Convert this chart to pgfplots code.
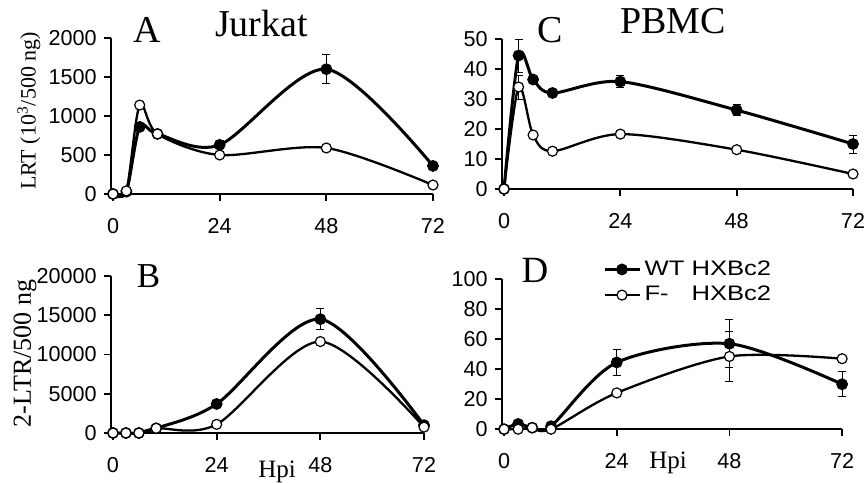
\documentclass[border=0pt]{standalone}
\usepackage{pgfplots}
\pgfplotsset{compat=1.18}
\usepackage{fontspec}
\setmainfont{Liberation Serif}
\newfontfamily\arial{Liberation Sans}
\newfontfamily\arialwide[FakeStretch=1.22]{Liberation Sans}

\pgfplotsset{
  panel/.style={
    scale only axis, anchor=south west, clip=false,
    axis x line*=bottom, axis y line*=left,
    axis line style={line width=0.9pt},
    tick style={line width=0.9pt, black},
    tick align=outside, major tick length=3.5pt,
    xmin=-0.5, xmax=72, xtick={0,24,48,72}, ymin=0,
    tick label style={font=\arial\fontsize{10.8}{12}\selectfont},
    /pgf/number format/assume math mode=true,
    /pgf/number format/1000 sep={},
    scaled y ticks=false,
    xticklabel style={yshift=-5pt},
  },
  wt/.style={black, line width=1.5pt, smooth, tension=0.5,
    mark=*, mark size=2.7pt, mark options={fill=black, line width=0.5pt}},
  fm/.style={black, line width=1.15pt, smooth, tension=0.5,
    mark=*, mark size=2.5pt, mark options={fill=white, line width=0.6pt}},
  errs/.style={only marks, mark=none, forget plot,
    error bars/.cd, y dir=both, y explicit,
    error bar style={line width=0.5pt, black},
    error mark options={rotate=90, mark size=2pt, line width=0.5pt, black}},
}

\begin{document}
\begin{tikzpicture}
\useasboundingbox (0,0) rectangle (432.5pt,-241pt);

% A: Jurkat LRT
\begin{axis}[panel, at={(55.4pt,-97pt)}, width=161.1pt, height=78pt,
  ymax=2000, ytick={0,500,1000,1500,2000}]
  \addplot[errs] coordinates {(24,630) +- (0,50) (48,1600) +- (0,185) (72,360) +- (0,50)};
  \addplot[wt] coordinates {(0,0) (3,30) (6,860) (10,770) (24,630) (48,1600) (72,360)};
  \addplot[fm] coordinates {(0,0) (3,40) (6,1140) (10,770) (24,500) (48,590) (72,115)};
\end{axis}

% C: PBMC LRT
\begin{axis}[panel, at={(250.8pt,-94.5pt)}, width=175.7pt, height=75pt,
  ymax=50, ytick={0,10,20,30,40,50}]
  \addplot[errs] coordinates {(3,44.5) +- (0,5.5) (3,34) +- (0,4) (24,35.8) +- (0,2)
    (48,26.3) +- (0,1.8) (72,15) +- (0,3)};
  \addplot[wt] coordinates {(0,0) (3,44.5) (6,36.5) (10,32) (24,35.8) (48,26.3) (72,15)};
  \addplot[fm] coordinates {(0,0) (3,34) (6,18) (10,12.6) (24,18.3) (48,13.1) (72,5)};
\end{axis}

% B: Jurkat 2-LTR
\begin{axis}[panel, at={(55.4pt,-216.5pt)}, width=156.6pt, height=78.5pt,
  ymax=20000, ytick={0,5000,10000,15000,20000}]
  \addplot[errs] coordinates {(48,14500) +- (0,1300)};
  \addplot[wt] coordinates {(0,0) (3,0) (6,0) (10,600) (24,3700) (48,14500) (72,1000)};
  \addplot[fm] coordinates {(0,0) (3,0) (6,0) (10,600) (24,1100) (48,11650) (72,750)};
\end{axis}

% D: PBMC 2-LTR
\begin{axis}[panel, at={(250.85pt,-214.6pt)}, width=170.2pt, height=75pt,
  ymax=100, ytick={0,20,40,60,80,100},
  legend style={at={(0.28,1.18)}, anchor=north west, draw=none, fill=none,
    font=\arialwide\fontsize{10.5}{12}\selectfont, row sep=0pt},
  legend cell align=left]
  \addplot[errs] coordinates {(24,44.5) +- (0,8.5) (48,57) +- (0,16) (48,48.5) +- (0,16.5)
    (72,30) +- (0,8.5)};
  \addplot[wt] coordinates {(0,0) (3,3.5) (6,1) (10,2) (24,44.5) (48,57) (72,30)};
  \addplot[fm] coordinates {(0,0) (3,0) (6,1) (10,0) (24,24.2) (48,48.5) (72,47)};
  \legend{WT HXBc2, \rlap{F-}\hphantom{WT} HXBc2}
\end{axis}

% panel letters, titles and axis labels
\node[anchor=base, font=\fontsize{19}{21}\selectfont] at (73.75pt,-21pt) {A};
\node[anchor=base west, font=\fontsize{19}{21}\selectfont] at (104pt,-18pt) {Jurkat};
\node[anchor=base, font=\fontsize{19}{21}\selectfont] at (275pt,-21pt) {C};
\node[anchor=base west, font=\fontsize{19}{21}\selectfont] at (306.5pt,-16.5pt) {PBMC};
\node[anchor=base, font=\fontsize{17.5}{19}\selectfont] at (74.25pt,-143.5pt) {B};
\node[anchor=base, font=\fontsize{18.5}{20}\selectfont] at (267.5pt,-141pt) {D};
\node[rotate=90, font=\fontsize{11}{13}\selectfont] at (14.5pt,-55.5pt) {LRT (10\textsuperscript{3}/500 ng)};
\node[rotate=90, font=\fontsize{13}{15}\selectfont] at (12.5pt,-176.75pt) {2-LTR/500 ng};
\node[anchor=base, font=\fontsize{12.5}{14}\selectfont] at (138.5pt,-238.5pt) {Hpi};
\node[anchor=base, font=\fontsize{12.5}{14}\selectfont] at (334pt,-234pt) {Hpi};
\end{tikzpicture}
\end{document}
